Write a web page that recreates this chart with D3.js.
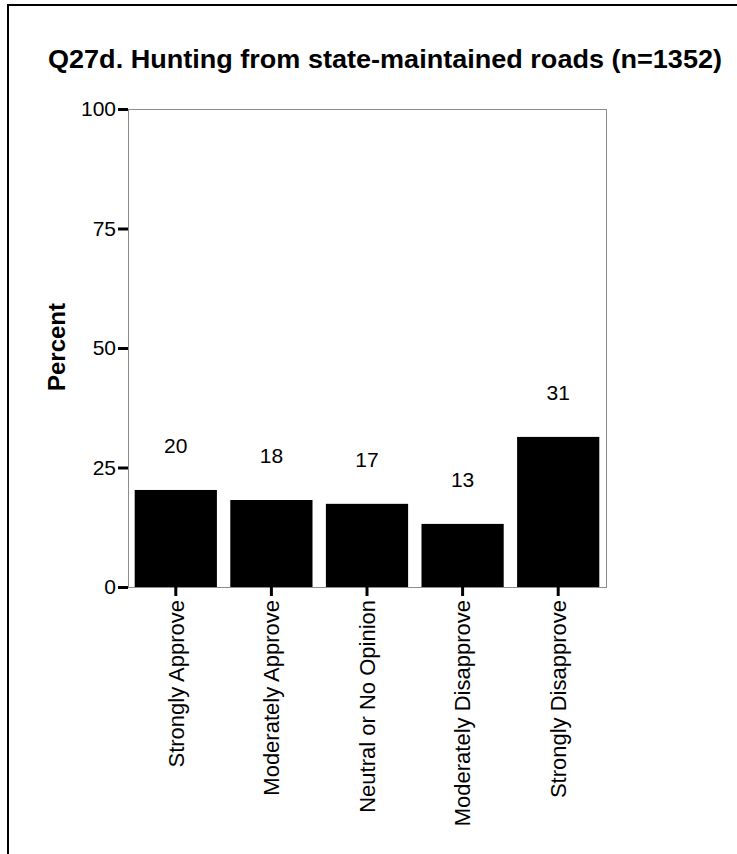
<!DOCTYPE html>
<html><head><meta charset="utf-8">
<script src="https://cdn.jsdelivr.net/npm/d3@7"></script>
<style>body{margin:0;background:#fff}svg{display:block}text{font-family:"Liberation Sans",Arial,sans-serif;fill:#000}</style>
</head><body>
<script>
const categories = ["Strongly Approve","Moderately Approve","Neutral or No Opinion","Moderately Disapprove","Strongly Disapprove"];
const values = [20.3, 18.2, 17.4, 13.2, 31.4];
const valueLabels = ["20","18","17","13","31"];
const yTicks = [0,25,50,75,100];
const title = "Q27d. Hunting from state-maintained roads (n=1352)";
const yTitle = "Percent";

const W = 737, H = 854;
const svg = d3.select("body").append("svg").attr("width", W).attr("height", H);

// outer frame (top and left edges)
svg.append("line").attr("x1",8).attr("x2",W).attr("y1",5).attr("y2",5).attr("stroke","#000").attr("stroke-width",2);
svg.append("line").attr("x1",8).attr("x2",8).attr("y1",4).attr("y2",H).attr("stroke","#000").attr("stroke-width",2);

const m = {left:128, top:109, right:606, bottom:587};
const x = d3.scaleBand().domain(categories).range([m.left, m.right]).paddingInner(0.14).paddingOuter(0.07);
const y = d3.scaleLinear().domain([0,100]).range([m.bottom, m.top]);

// plot frame
svg.append("rect").attr("x",m.left+0.5).attr("y",m.top+0.5).attr("width",m.right-m.left).attr("height",m.bottom-m.top)
  .attr("fill","none").attr("stroke","#8c8c8c").attr("stroke-width",1);

// bars
svg.selectAll("rect.bar").data(values).enter().append("rect").attr("class","bar")
  .attr("x",(d,i)=>x(categories[i])).attr("width",x.bandwidth())
  .attr("y",d=>y(d)).attr("height",d=>y(0)-y(d)).attr("fill","#000");

// value labels
svg.selectAll("text.vl").data(values).enter().append("text").attr("class","vl")
  .attr("x",(d,i)=>x(categories[i])+x.bandwidth()/2).attr("y",d=>y(d)-44)
  .attr("dy","0.35em").attr("text-anchor","middle").style("font-size","21px")
  .text((d,i)=>valueLabels[i]);

// y axis
const ya = svg.append("g").attr("transform",`translate(${m.left},0)`)
  .call(d3.axisLeft(y).tickValues(yTicks).tickSize(10).tickPadding(2));
ya.select(".domain").remove();
ya.selectAll(".tick line").attr("stroke","#000").attr("stroke-width",3);
ya.selectAll(".tick text").style("font-size","21px").style("font-family","Liberation Sans, Arial, sans-serif").attr("fill","#000");

// x axis
const xa = svg.append("g").attr("transform",`translate(0,${m.bottom})`)
  .call(d3.axisBottom(x).tickSize(9).tickPadding(4));
xa.select(".domain").remove();
xa.selectAll(".tick line").attr("stroke","#000").attr("stroke-width",3);
xa.selectAll(".tick text").style("font-size","22px").style("font-family","Liberation Sans, Arial, sans-serif").attr("fill","#000")
  .attr("text-anchor","end").attr("transform","rotate(-90)").attr("x",-13).attr("y",0).attr("dy","0.35em");

// titles
svg.append("text").attr("x",48).attr("y",68).style("font-size","26px").style("font-weight","bold")
  .attr("textLength",674).attr("lengthAdjust","spacingAndGlyphs").text(title);
svg.append("text").attr("transform","translate(65,347) rotate(-90)").attr("text-anchor","middle")
  .style("font-size","24px").style("font-weight","bold").text(yTitle);
</script>
</body></html>
